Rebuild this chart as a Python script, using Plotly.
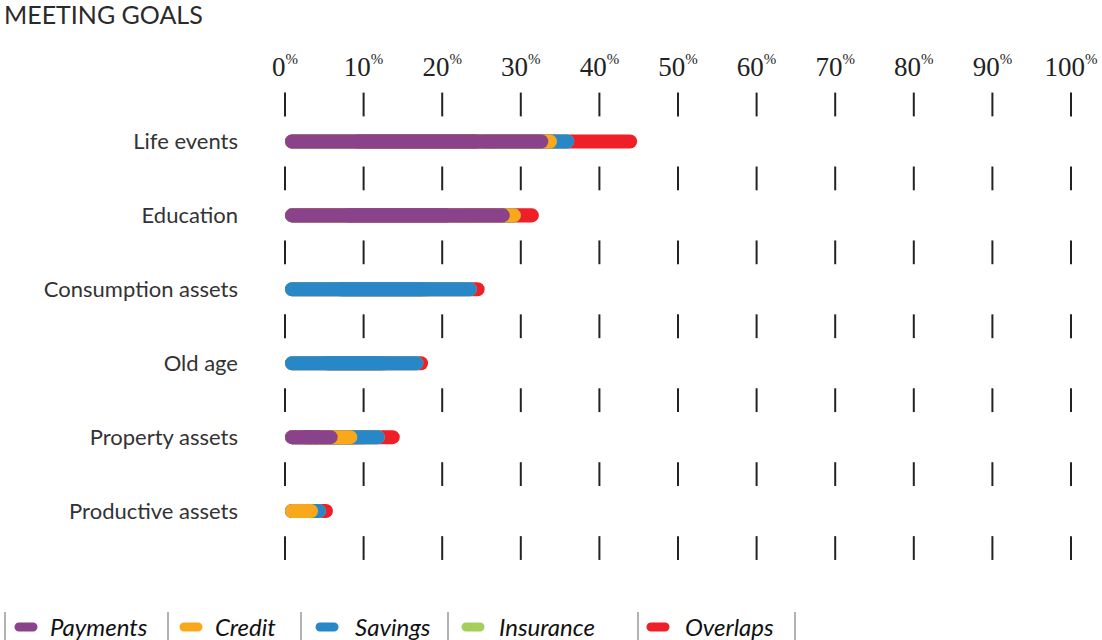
import plotly.graph_objects as go

# ---------------- data ----------------
categories = ["Life events", "Education", "Consumption assets", "Old age",
              "Property assets", "Productive assets"]
payments = [33.5, 28.6, 0.0, 0.0, 6.7, 0.0]
credit = [1.1, 1.4, 0.0, 0.0, 2.5, 4.2]
savings = [2.2, 0.0, 24.4, 17.6, 3.5, 1.0]
insurance = [0.0, 0.0, 0.0, 0.0, 0.0, 0.0]
overlaps = [8.0, 2.3, 1.0, 0.6, 1.9, 0.9]
tick_values = [0, 10, 20, 30, 40, 50, 60, 70, 80, 90, 100]
tick_labels = [f"{v}" for v in tick_values]

series_names = ["Payments", "Credit", "Savings", "Insurance", "Overlaps"]
series_values = [payments, credit, savings, insurance, overlaps]
series_colors = ["#8a428a", "#f9a81b", "#2887c6", "#a3cf5a", "#ee1f26"]

# ---------------- layout geometry ----------------
W, H = 1102, 640
ML, MR, MT, MB = 285, 31, 86, 55
PW, PH = W - ML - MR, H - MT - MB

ypos = list(range(len(categories)))
bar_w = 0.19

fig = go.Figure()

# cumulative sums
cum = []
running = [0.0] * len(categories)
for vals in series_values:
    running = [r + v for r, v in zip(running, vals)]
    cum.append(running)

# draw from the largest cumulative layer to the smallest; each layer as
# two overlapping halves so both ends get rounded
for name, color, c in reversed(list(zip(series_names, series_colors, cum))):
    lb = [v * 0.75 for v in c]
    fig.add_trace(go.Bar(
        y=ypos, x=[-v for v in lb], base=lb, orientation="h",
        width=bar_w, marker=dict(color=color, cornerradius="50%", line=dict(width=0)),
        showlegend=False, hoverinfo="skip"))
    rb = [v * 0.25 for v in c]
    fig.add_trace(go.Bar(
        y=ypos, x=[v - b for v, b in zip(c, rb)], base=rb, orientation="h",
        width=bar_w, marker=dict(color=color, cornerradius="50%", line=dict(width=0)),
        showlegend=False, hoverinfo="skip"))

# tick-mark rows between categories
rows = [p - 0.5 for p in ypos] + [ypos[-1] + 0.5]
tx, ty = [], []
for r in rows:
    for v in tick_values:
        tx.append(v)
        ty.append(r)
fig.add_trace(go.Scatter(
    x=tx, y=ty, mode="markers",
    marker=dict(symbol="line-ns", size=17, line=dict(width=2, color="#222222")),
    showlegend=False, hoverinfo="skip", cliponaxis=False))

fig.update_layout(
    width=W, height=H, autosize=False,
    margin=dict(l=ML, r=MR, t=MT, b=MB, autoexpand=False),
    paper_bgcolor="white", plot_bgcolor="white",
    barmode="overlay",
    showlegend=False,
    title=dict(text="MEETING GOALS", x=4 / W, xanchor="left", xref="container",
               y=1 - 15 / H, yanchor="middle", yref="container",
               font=dict(family="Lato", size=25, color="#2a2a2a")),
    xaxis=dict(range=[0, 100], side="top", tickvals=tick_values, automargin=False,
               ticktext=[f"{t}<sup><span style='font-size:15px'>%</span></sup>" for t in tick_labels],
               showgrid=False, zeroline=False, showline=False, ticks="",
               ticklabelstandoff=4,
               tickfont=dict(family="Liberation Serif", size=27, color="#222222")),
    yaxis=dict(range=[6.0, -0.75], tickvals=ypos, ticktext=categories, automargin=False,
               showgrid=False, zeroline=False, showline=False, ticks="",
               ticklabelstandoff=46,
               tickfont=dict(family="Lato", size=22, color="#333333")),
)

# ---------------- manual legend ----------------
def xp(px):
    return (px - ML) / PW

def yp(py):
    return (MT + PH - py) / PH

legend_y = 626
separators = [5, 168, 301, 448, 638, 795]
pill_x = [26, 191, 327, 473, 658]
text_x = [48, 213, 353, 497, 683]

for s in separators:
    fig.add_shape(type="line", xref="paper", yref="paper",
                  x0=xp(s), x1=xp(s), y0=yp(612), y1=yp(642),
                  line=dict(color="#999999", width=1.5))

pill = ("M -7,-4.5 L 7,-4.5 C 9.5,-4.5 11.5,-2.5 11.5,0 C 11.5,2.5 9.5,4.5 7,4.5 L -7,4.5 "
        "C -9.5,4.5 -11.5,2.5 -11.5,0 C -11.5,-2.5 -9.5,-4.5 -7,-4.5 Z")
for name, color, px_, tx_ in zip(series_names, series_colors, pill_x, text_x):
    fig.add_shape(type="path", xref="paper", yref="paper",
                  xsizemode="pixel", ysizemode="pixel",
                  xanchor=xp(px_), yanchor=yp(legend_y + 1),
                  path=pill, fillcolor=color, line=dict(width=0))
    fig.add_annotation(text=f"<i>{name}</i>", xref="paper", yref="paper",
                       x=xp(tx_), y=yp(legend_y), xanchor="left", yanchor="middle",
                       showarrow=False,
                       font=dict(family="Lato", size=24, color="#111111"))

fig.write_html("out.html",
               config={"responsive": False, "displayModeBar": False},
               post_script="document.body.style.margin='0';document.body.style.overflow='hidden';")
